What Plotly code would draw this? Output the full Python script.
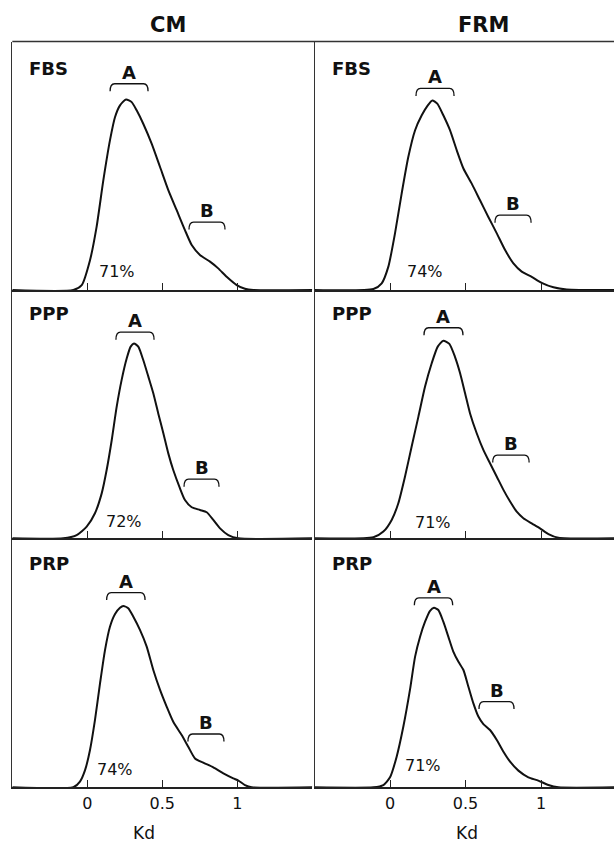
import plotly.graph_objects as go

W, H = 614, 843

# ---------------- data ----------------
column_titles = ["CM", "FRM"]
row_labels = ["FBS", "PPP", "PRP"]
tick_vals = [0, 0.5, 1]
tick_text = ["0", "0.5", "1"]
x_title = "Kd"

cm_fbs_kd = [-0.50, -0.093, -0.037, 0.018, 0.062, 0.107, 0.151, 0.185, 0.218, 0.258, 0.296, 0.329, 0.373,
             0.429, 0.485, 0.540, 0.596, 0.651, 0.696, 0.751, 0.818, 0.873, 0.929, 0.996, 1.051, 1.107, 1.50]
cm_fbs_density = [0, 0, 0.020, 0.120, 0.254, 0.442, 0.602, 0.696, 0.743, 0.767, 0.756, 0.723, 0.669,
                  0.589, 0.495, 0.402, 0.321, 0.241, 0.181, 0.141, 0.114, 0.087, 0.053, 0.020, 0.005, 0, 0]

frm_fbs_kd = [-0.50, -0.110, -0.055, -0.011, 0.033, 0.077, 0.121, 0.166, 0.210, 0.250, 0.280, 0.313, 0.353,
              0.397, 0.442, 0.486, 0.541, 0.596, 0.651, 0.707, 0.762, 0.817, 0.872, 0.938, 1.004, 1.082,
              1.170, 1.50]
frm_fbs_density = [0, 0.004, 0.027, 0.094, 0.228, 0.388, 0.535, 0.643, 0.703, 0.743, 0.763, 0.750, 0.703,
                   0.643, 0.562, 0.489, 0.428, 0.361, 0.294, 0.228, 0.161, 0.107, 0.074, 0.053, 0.029,
                   0.011, 0.002, 0]

cm_ppp_kd = [-0.50, -0.160, -0.071, -0.004, 0.051, 0.096, 0.129, 0.163, 0.196, 0.229, 0.263, 0.289, 0.311,
             0.340, 0.373, 0.407, 0.440, 0.473, 0.507, 0.540, 0.573, 0.618, 0.651, 0.696, 0.751, 0.796,
             0.840, 0.885, 0.940, 1.007, 1.50]
cm_ppp_density = [0, 0, 0.013, 0.047, 0.101, 0.181, 0.275, 0.396, 0.530, 0.638, 0.725, 0.772, 0.785,
                  0.772, 0.718, 0.651, 0.584, 0.503, 0.423, 0.342, 0.275, 0.201, 0.154, 0.125, 0.114,
                  0.105, 0.074, 0.040, 0.013, 0, 0]

frm_ppp_kd = [-0.50, -0.110, -0.044, 0.011, 0.055, 0.099, 0.143, 0.188, 0.232, 0.276, 0.316, 0.353, 0.393,
              0.430, 0.464, 0.497, 0.530, 0.574, 0.618, 0.662, 0.707, 0.751, 0.795, 0.839, 0.883, 0.938,
              0.993, 1.049, 1.115, 1.50]
frm_ppp_density = [0, 0.004, 0.027, 0.074, 0.141, 0.248, 0.369, 0.490, 0.611, 0.705, 0.772, 0.796, 0.783,
                   0.731, 0.665, 0.584, 0.503, 0.423, 0.356, 0.302, 0.248, 0.195, 0.148, 0.107, 0.081,
                   0.060, 0.040, 0.017, 0.002, 0]

cm_prp_kd = [-0.50, -0.093, -0.049, -0.015, 0.018, 0.051, 0.085, 0.118, 0.151, 0.185, 0.218, 0.240, 0.273,
             0.307, 0.351, 0.396, 0.440, 0.485, 0.529, 0.573, 0.629, 0.673, 0.718, 0.773, 0.840, 0.907,
             0.973, 1.007, 1.051, 1.096, 1.50]
cm_prp_density = [0, 0, 0.023, 0.069, 0.150, 0.270, 0.418, 0.551, 0.645, 0.696, 0.721, 0.728, 0.719,
                  0.685, 0.632, 0.565, 0.471, 0.391, 0.324, 0.263, 0.210, 0.163, 0.116, 0.099, 0.080,
                  0.056, 0.036, 0.027, 0.009, 0, 0]

frm_prp_kd = [-0.50, -0.110, -0.044, 0.000, 0.044, 0.088, 0.132, 0.166, 0.199, 0.232, 0.265, 0.291, 0.320,
              0.353, 0.386, 0.419, 0.453, 0.486, 0.519, 0.552, 0.585, 0.618, 0.662, 0.707, 0.751, 0.795,
              0.850, 0.916, 0.982, 1.049, 1.115, 1.50]
frm_prp_density = [0, 0, 0.009, 0.040, 0.123, 0.243, 0.391, 0.525, 0.605, 0.665, 0.709, 0.721, 0.712,
                   0.665, 0.605, 0.545, 0.504, 0.471, 0.404, 0.337, 0.284, 0.254, 0.230, 0.190, 0.143,
                   0.103, 0.067, 0.040, 0.027, 0.009, 0, 0]

cm_percent = ["71%", "72%", "74%"]
frm_percent = ["74%", "71%", "71%"]

# peak A / B bracket spans (Kd)
cm_a_span = [(0.152, 0.405), (0.191, 0.445), (0.129, 0.385)]
cm_b_span = [(0.678, 0.918), (0.645, 0.878), (0.671, 0.911)]
frm_a_span = [(0.172, 0.424), (0.225, 0.483), (0.161, 0.415)]
frm_b_span = [(0.695, 0.934), (0.680, 0.921), (0.589, 0.821)]

# ---------------- layout helpers (pixels) ----------------
row_px = [(41.5, 290.0), (290.0, 538.3), (538.3, 787.3)]   # top, baseline
col_px = [(12.3, 312.3), (314.5, 614.0)]
col_range = [[-0.5, 1.5], [-0.5, 1.483]]

# annotation placement (data units within each panel)
cm_a_level = [0.830, 0.830, 0.782]
cm_b_level = [0.273, 0.238, 0.214]
frm_a_level = [0.811, 0.848, 0.761]
frm_b_level = [0.301, 0.335, 0.344]
cm_pct_pos = [(0.198, 0.076), (0.245, 0.067), (0.185, 0.072)]
frm_pct_pos = [(0.232, 0.076), (0.283, 0.064), (0.221, 0.087)]
label_y = [0.892, 0.907, 0.900]

curves = {
    (0, 0): (cm_fbs_kd, cm_fbs_density), (0, 1): (frm_fbs_kd, frm_fbs_density),
    (1, 0): (cm_ppp_kd, cm_ppp_density), (1, 1): (frm_ppp_kd, frm_ppp_density),
    (2, 0): (cm_prp_kd, cm_prp_density), (2, 1): (frm_prp_kd, frm_prp_density),
}

FONT = "DejaVu Sans"
LINE = "#111111"
AXIS = "#333333"

fig = go.Figure()
layout = dict(
    width=W, height=H, margin=dict(l=0, r=0, t=0, b=0),
    paper_bgcolor="white", plot_bgcolor="white", showlegend=False,
    font=dict(family=FONT, color="#111111", size=16),
)
annotations = []
shapes = []


def bracket(xr, yr, x0, x1, yl, drop=0.03, r=0.03):
    path = (f"M {x0},{yl - drop} Q {x0},{yl} {x0 + r},{yl} "
            f"L {x1 - r},{yl} Q {x1},{yl} {x1},{yl - drop}")
    return dict(type="path", path=path, xref=xr, yref=yr,
                line=dict(color=LINE, width=1.3), layer="above")


for r in range(3):
    for c in range(2):
        i = r * 2 + c + 1
        xa = "xaxis" if i == 1 else f"xaxis{i}"
        ya = "yaxis" if i == 1 else f"yaxis{i}"
        xr = "x" if i == 1 else f"x{i}"
        yr = "y" if i == 1 else f"y{i}"
        top, base = row_px[r]
        x0p, x1p = col_px[c]
        layout[xa] = dict(
            domain=[x0p / W, x1p / W], range=col_range[c], anchor=yr,
            showgrid=False, zeroline=False, showline=True, linecolor="#222222", linewidth=2,
            tickvals=tick_vals, ticktext=tick_text, ticks="inside", ticklen=7, tickwidth=1,
            tickcolor="#222222", showticklabels=(r == 2),
            tickfont=dict(family=FONT, size=16, color="#111111"),
        )
        layout[ya] = dict(
            domain=[1 - base / H, 1 - top / H], range=[0, 1], anchor=xr,
            showgrid=False, zeroline=False, showline=True, linecolor=AXIS, linewidth=1.3,
            showticklabels=False, ticks="",
        )
        kd, dens = curves[(r, c)]
        fig.add_trace(go.Scatter(x=kd, y=dens, mode="lines", xaxis=xr, yaxis=yr,
                                 line=dict(color=LINE, width=2, shape="spline", smoothing=0.6),
                                 hoverinfo="skip"))

        a_span = (cm_a_span if c == 0 else frm_a_span)[r]
        b_span = (cm_b_span if c == 0 else frm_b_span)[r]
        a_lv = (cm_a_level if c == 0 else frm_a_level)[r]
        b_lv = (cm_b_level if c == 0 else frm_b_level)[r]
        pct = (cm_percent if c == 0 else frm_percent)[r]
        ppos = (cm_pct_pos if c == 0 else frm_pct_pos)[r]

        shapes.append(bracket(xr, yr, a_span[0], a_span[1], a_lv))
        shapes.append(bracket(xr, yr, b_span[0], b_span[1], b_lv))
        for txt, span, lv in (("A", a_span, a_lv), ("B", b_span, b_lv)):
            annotations.append(dict(x=(span[0] + span[1]) / 2, y=lv, xref=xr, yref=yr,
                                    text=f"<b>{txt}</b>", showarrow=False, yanchor="bottom",
                                    xanchor="center", yshift=-1,
                                    font=dict(family=FONT, size=18, color="#111111")))
        annotations.append(dict(x=ppos[0], y=ppos[1], xref=xr, yref=yr, text=pct,
                                showarrow=False, xanchor="center", yanchor="middle",
                                font=dict(family=FONT, size=16, color="#111111")))
        annotations.append(dict(x=-0.4, y=label_y[r], xref=xr, yref=yr,
                                text=f"<b>{row_labels[r]}</b>", showarrow=False,
                                xanchor="left", yanchor="middle",
                                font=dict(family=FONT, size=18, color="#111111")))

# column titles
for c, (cx, title) in enumerate(zip([168, 483], column_titles)):
    annotations.append(dict(x=cx / W, y=1 - 25 / H, xref="paper", yref="paper",
                            text=f"<b>{title}</b>", showarrow=False, xanchor="center",
                            yanchor="middle", font=dict(family=FONT, size=21, color="#111111")))
# x titles
for kx in [144, 466.7]:
    annotations.append(dict(x=kx / W, y=1 - 833 / H, xref="paper", yref="paper",
                            text=x_title, showarrow=False, xanchor="center", yanchor="middle",
                            font=dict(family=FONT, size=17, color="#111111")))

# top frame line
shapes.append(dict(type="line", xref="paper", yref="paper", x0=12.3 / W, x1=1,
                   y0=1 - 41.5 / H, y1=1 - 41.5 / H, line=dict(color=AXIS, width=1.3)))

layout["annotations"] = annotations
layout["shapes"] = shapes
fig.update_layout(**layout)
fig.write_html("out.html")
